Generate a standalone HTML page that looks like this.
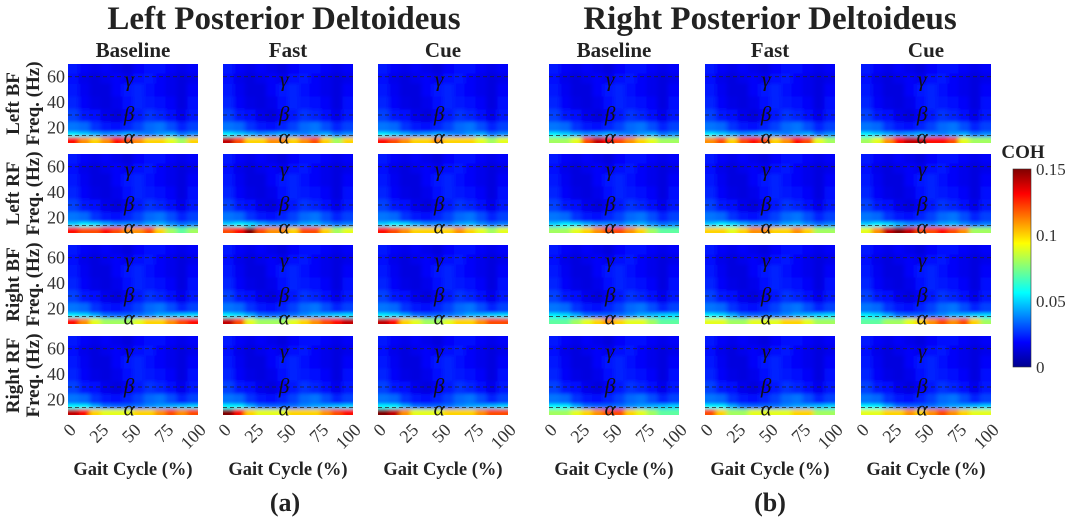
<!DOCTYPE html>
<html><head><meta charset="utf-8"><style>
html,body{margin:0;padding:0;background:#fff;}
svg{display:block;font-family:"Liberation Serif",serif;}
</style></head><body>
<svg id="fig" width="1065" height="519" viewBox="0 0 1065 519" xmlns="http://www.w3.org/2000/svg">
<defs>
<filter id="bl" x="-10%" y="-10%" width="120%" height="120%"><feGaussianBlur stdDeviation="2.5 1.5"/></filter>
<linearGradient id="cbg" x1="0" y1="1" x2="0" y2="0">
<stop offset="0" stop-color="#00008f"/><stop offset="0.125" stop-color="#0000ff"/><stop offset="0.375" stop-color="#00ffff"/><stop offset="0.625" stop-color="#ffff00"/><stop offset="0.875" stop-color="#ff0000"/><stop offset="1" stop-color="#800000"/>
</linearGradient>
</defs>
<text x="284" y="29" font-size="33" font-weight="bold" text-anchor="middle" fill="#222">Left Posterior Deltoideus</text>
<text x="770" y="29" font-size="33" font-weight="bold" text-anchor="middle" fill="#222">Right Posterior Deltoideus</text>
<text x="1023" y="158" font-size="19" font-weight="bold" text-anchor="middle" fill="#222">COH</text>
<rect x="1013" y="169" width="18" height="198" fill="url(#cbg)" stroke="#333" stroke-width="0.6"/>
<g id="panels"></g>
</svg>
<script>
const conditions=["Baseline","Fast","Cue"];
const rowLabels=["Left BF","Left RF","Right BF","Right RF"];
const yTicks=[20,40,60];
const xTicks=[0,25,50,75,100];
const cbTicks=[0,0.05,0.1,0.15];
const bandLines=[14,30,60];
const bandNames=["α","β","γ"];
// alpha-band (8-13 Hz) coherence per panel, 12 gait bins: [row][condition]
const alphaL=[
[[0.13,0.11,0.10,0.11,0.13,0.12,0.11,0.10,0.10,0.09,0.08,0.10],[0.14,0.12,0.10,0.10,0.11,0.11,0.10,0.11,0.12,0.10,0.08,0.10],[0.13,0.12,0.11,0.10,0.10,0.11,0.10,0.10,0.10,0.09,0.08,0.09]],
[[0.13,0.12,0.12,0.13,0.12,0.11,0.11,0.12,0.10,0.08,0.07,0.08],[0.12,0.13,0.15,0.12,0.11,0.11,0.10,0.12,0.12,0.10,0.08,0.09],[0.13,0.12,0.11,0.10,0.10,0.10,0.10,0.11,0.10,0.09,0.08,0.09]],
[[0.13,0.11,0.09,0.08,0.08,0.08,0.09,0.10,0.10,0.11,0.12,0.13],[0.14,0.12,0.09,0.08,0.08,0.08,0.09,0.10,0.11,0.12,0.13,0.14],[0.14,0.13,0.10,0.09,0.08,0.08,0.09,0.10,0.10,0.11,0.12,0.12]],
[[0.14,0.13,0.10,0.09,0.09,0.09,0.10,0.10,0.11,0.12,0.11,0.12],[0.15,0.13,0.10,0.09,0.09,0.09,0.10,0.10,0.10,0.11,0.12,0.13],[0.15,0.14,0.11,0.09,0.09,0.09,0.10,0.10,0.10,0.11,0.12,0.12]]];
const alphaR=[
[[0.08,0.08,0.09,0.12,0.14,0.13,0.12,0.11,0.10,0.09,0.08,0.08],[0.11,0.12,0.10,0.12,0.13,0.12,0.10,0.11,0.13,0.12,0.09,0.08],[0.08,0.09,0.11,0.13,0.14,0.14,0.13,0.13,0.12,0.09,0.08,0.08]],
[[0.08,0.08,0.09,0.10,0.11,0.12,0.12,0.11,0.10,0.08,0.07,0.07],[0.10,0.10,0.09,0.10,0.11,0.11,0.10,0.10,0.11,0.10,0.08,0.08],[0.09,0.11,0.14,0.15,0.14,0.12,0.12,0.13,0.12,0.11,0.08,0.08]],
[[0.07,0.07,0.08,0.09,0.10,0.11,0.10,0.09,0.09,0.08,0.07,0.07],[0.09,0.09,0.08,0.08,0.09,0.09,0.09,0.10,0.10,0.09,0.08,0.08],[0.07,0.07,0.08,0.08,0.09,0.10,0.11,0.12,0.11,0.12,0.10,0.08]],
[[0.08,0.08,0.09,0.10,0.11,0.12,0.12,0.10,0.09,0.08,0.07,0.07],[0.12,0.10,0.08,0.08,0.09,0.09,0.09,0.09,0.10,0.10,0.08,0.08],[0.09,0.09,0.10,0.10,0.11,0.10,0.11,0.12,0.11,0.10,0.09,0.09]]];
// low-beta (13-17 Hz) row, one per muscle row
const lowBeta=[
[0.055,0.050,0.045,0.040,0.042,0.045,0.040,0.038,0.042,0.045,0.036,0.040],
[0.050,0.055,0.052,0.045,0.040,0.040,0.038,0.044,0.046,0.040,0.035,0.038],
[0.055,0.052,0.045,0.036,0.034,0.034,0.036,0.040,0.045,0.047,0.050,0.052],
[0.056,0.055,0.045,0.036,0.034,0.034,0.036,0.040,0.043,0.045,0.047,0.050]];
// shared background coherence, rows 17-25,25-35,35-45,45-55,55-63,63-70 Hz
const bg=[
[0.036,0.034,0.026,0.022,0.020,0.024,0.028,0.034,0.036,0.030,0.024,0.028],
[0.028,0.022,0.020,0.016,0.014,0.018,0.022,0.026,0.024,0.020,0.016,0.022],
[0.024,0.018,0.015,0.014,0.016,0.020,0.024,0.022,0.020,0.018,0.014,0.020],
[0.022,0.017,0.014,0.014,0.018,0.022,0.024,0.020,0.018,0.016,0.014,0.018],
[0.020,0.016,0.014,0.016,0.018,0.016,0.020,0.022,0.018,0.016,0.014,0.016],
[0.022,0.018,0.016,0.018,0.016,0.014,0.018,0.020,0.020,0.018,0.016,0.018]];
const fEdges=[8,13,17,25,35,45,55,63,70];
const groupX=[[68,223,378],[549,705,861]];
const rowY=[64,154,245,336];
const PW=130,PH=79,FMIN=8,FMAX=70,CMAX=0.15;
const NS="http://www.w3.org/2000/svg";
const root=document.getElementById('panels');
function mk(tag,attrs,parent){const e=document.createElementNS(NS,tag);for(const k in attrs)e.setAttribute(k,attrs[k]);(parent||root).appendChild(e);return e;}
function jet(v){let t=Math.max(0,Math.min(1,v/CMAX));const c=x=>Math.round(255*Math.max(0,Math.min(1,1.5-Math.abs(x))));return `rgb(${c(4*t-3)},${c(4*t-2)},${c(4*t-1)})`;}
function yS(f,top){return top+(FMAX-f)/(FMAX-FMIN)*PH;}
function xS(p,left){return left+p/100*PW;}
let cid=0;
[alphaL,alphaR].forEach((alpha,g)=>{
 groupX[g].forEach((px,c)=>{
  const t=mk('text',{x:px+PW/2,y:57,'font-size':21,'font-weight':'bold','text-anchor':'middle',fill:'#222'});
  
  
  t.textContent=conditions[c];
  rowY.forEach((py,r)=>{
   const gp=mk('g',{});
   
   
   const id='cp'+(cid++);
   const cp=mk('clipPath',{id:id},gp);mk('rect',{x:px,y:py,width:PW,height:PH},cp);
   const cg=mk('g',{'clip-path':`url(#${id})`},gp);
   const fg=mk('g',{filter:'url(#bl)'},cg);
   const rows=[alpha[r][c],lowBeta[r]].concat(bg);
   const n=12,cw=PW/n;
   rows.forEach((vals,ri)=>{
    const y1=yS(fEdges[ri+1],py),y0=yS(fEdges[ri],py);
    vals.forEach((v,i)=>{
     let x=px+i*cw,w=cw+0.6,yy=y1,h=y0-y1+0.6;
     if(i===0){x-=10;w+=10;} if(i===n-1){w+=10;}
     if(ri===0){h+=10;} if(ri===rows.length-1){yy-=10;h+=10;}
     const cell=mk('rect',{x:x,y:yy,width:w,height:h,fill:jet(v)},fg);
     
     
    });
   });
   bandLines.forEach((f,bi)=>{
    const y=yS(f,py);
    const l=mk('line',{x1:px,x2:px+PW,y1:y,y2:y,stroke:'#222','stroke-width':0.8,'stroke-dasharray':'4 3'},gp);
    
    
    const ly=bi===0?y+8:(bi===1?y+6:y+10);
    const bt=mk('text',{x:px+PW*0.47,y:ly,'font-size':21,'font-style':'italic','text-anchor':'middle',fill:'#111'},gp);
    
    
    bt.textContent=bandNames[bi];
   });
   if(g===0&&c===0){
    yTicks.forEach(v=>{
     const tt=mk('text',{x:px-3,y:yS(v,py)+6,'font-size':18,'text-anchor':'end',fill:'#333'});
     
     
     tt.textContent=v;
    });
    const cy=py+PH/2;
    const rl=mk('text',{transform:`translate(19,${cy}) rotate(-90)`,'font-size':19,'font-weight':'bold','text-anchor':'middle',fill:'#222'});
    
    
    rl.textContent=rowLabels[r];
    const fl=mk('text',{transform:`translate(39,${cy}) rotate(-90)`,'font-size':19,'font-weight':'bold','text-anchor':'middle',fill:'#222'});
    
    
    fl.textContent='Freq. (Hz)';
   }
  });
  const by=rowY[3]+PH;
  xTicks.forEach(v=>{
   const xt=mk('text',{transform:`translate(${xS(v,px)+9},${by+16}) rotate(-45)`,'font-size':18,'text-anchor':'end',fill:'#333'});
   
   
   xt.textContent=v;
  });
  const xl=mk('text',{x:px+PW/2,y:475,'font-size':18.5,'font-weight':'bold','text-anchor':'middle',fill:'#222'});
  
  
  xl.textContent='Gait Cycle (%)';
 });
 const pl=mk('text',{x:g?770:285,y:511,'font-size':26,'font-weight':'bold','text-anchor':'middle',fill:'#222'});
 
 
 pl.textContent=g?'(b)':'(a)';
});
cbTicks.forEach(v=>{
 const y=367-v/CMAX*198;
 const ct=mk('text',{x:1036,y:y+6,'font-size':17,fill:'#333'});
 
 
 ct.textContent=v;
});
</script>
</body></html>
